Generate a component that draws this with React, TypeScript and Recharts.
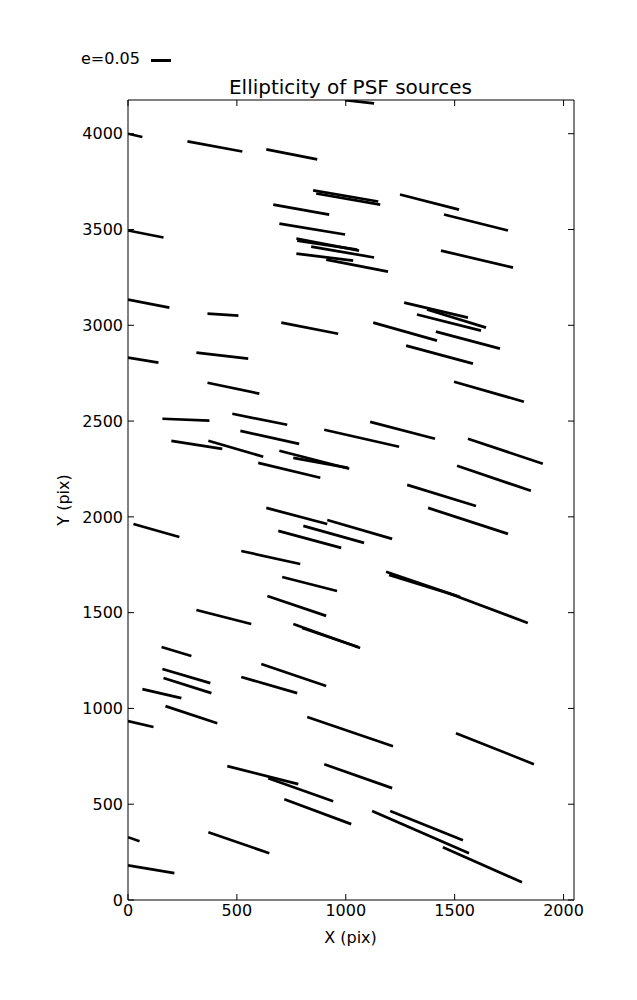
import React from 'react';
import { LineChart, Line, XAxis, YAxis } from 'recharts';

// whisker start / end points, in detector pixels
const xStart = [0, 273, 635, 850, 864, 1249, 667, 1451, 0, 695, 773, 777, 841, 773, 910, 1437, 0, 365, 704, 1268, 1373, 1327, 1126, 1414, 1277, 0, 314, 365, 1497, 158, 479, 1112, 516, 901, 1561, 199, 369, 695, 759, 598, 1511, 1282, 635, 915, 805, 25, 1378, 690, 520, 1185, 1199, 708, 640, 314, 1469, 759, 800, 154, 158, 163, 520, 612, 66, 172, 0, 823, 1506, 456, 644, 901, 718, 0, 369, 1121, 1204, 1446, 0, 997];
const yStart = [4000, 3960, 3918, 3704, 3688, 3683, 3630, 3578, 3495, 3531, 3453, 3442, 3411, 3374, 3343, 3390, 3134, 3061, 3014, 3118, 3082, 3056, 3014, 2967, 2894, 2831, 2857, 2700, 2705, 2512, 2538, 2496, 2449, 2455, 2408, 2397, 2397, 2345, 2308, 2282, 2267, 2167, 2047, 1984, 1953, 1963, 2047, 1927, 1822, 1713, 1697, 1686, 1587, 1514, 1603, 1441, 1420, 1321, 1206, 1159, 1164, 1232, 1101, 1012, 934, 955, 871, 699, 636, 709, 526, 328, 354, 464, 464, 275, 181, 4175];
const xEnd = [66, 525, 869, 1149, 1158, 1520, 924, 1745, 163, 997, 1061, 1052, 1130, 1034, 1194, 1768, 190, 507, 965, 1561, 1644, 1621, 1419, 1708, 1584, 140, 552, 603, 1818, 374, 731, 1410, 786, 1245, 1905, 433, 621, 1016, 1011, 883, 1850, 1598, 915, 1213, 1084, 236, 1745, 979, 791, 1525, 1511, 960, 910, 566, 1836, 1066, 1057, 291, 378, 383, 777, 910, 245, 410, 117, 1217, 1864, 782, 942, 1213, 1025, 53, 649, 1566, 1538, 1809, 213, 1130];
const yEnd = [3983, 3907, 3866, 3646, 3630, 3604, 3578, 3495, 3458, 3474, 3390, 3395, 3354, 3338, 3280, 3301, 3092, 3050, 2956, 3040, 2988, 2972, 2920, 2878, 2800, 2805, 2826, 2643, 2601, 2502, 2481, 2408, 2381, 2366, 2277, 2355, 2314, 2251, 2256, 2204, 2136, 2057, 1963, 1885, 1864, 1895, 1911, 1838, 1754, 1582, 1587, 1613, 1483, 1441, 1446, 1315, 1321, 1274, 1132, 1080, 1080, 1117, 1054, 923, 903, 803, 709, 605, 516, 584, 396, 307, 244, 244, 312, 93, 140, 4158];

const xTicks = [0, 500, 1000, 1500, 2000];
const yTicks = [0, 500, 1000, 1500, 2000, 2500, 3000, 3500, 4000];
const X_MAX = 2048;
const Y_MAX = 4176;

const segments = xStart.map((x, i) => [
    { x, y: yStart[i] },
    { x: xEnd[i], y: yEnd[i] },
]);

const font = '"DejaVu Sans", sans-serif';
const tickStyle = { fill: '#000', fontSize: 16, fontFamily: font };

export default function App() {
    return (
        <div style={{ position: 'relative', width: 629, height: 984, fontFamily: font, color: '#000' }}>
            <LineChart width={629} height={984} margin={{ top: 91, right: 62, bottom: 62, left: 60 }}>
                <XAxis
                    xAxisId="b"
                    dataKey="x"
                    type="number"
                    domain={[0, X_MAX]}
                    ticks={xTicks}
                    allowDataOverflow
                    height={30}
                    tickSize={-6}
                    tickMargin={11}
                    stroke="#000"
                    tick={tickStyle}
                />
                {/* top spine */}
                <XAxis
                    xAxisId="t"
                    orientation="top"
                    dataKey="x"
                    type="number"
                    domain={[0, X_MAX]}
                    ticks={xTicks}
                    allowDataOverflow
                    height={1}
                    tickSize={-6}
                    stroke="#000"
                    tickFormatter={() => ''}
                />
                <YAxis
                    yAxisId="l"
                    dataKey="y"
                    type="number"
                    domain={[0, Y_MAX]}
                    ticks={yTicks}
                    allowDataOverflow
                    width={60}
                    tickSize={-6}
                    tickMargin={11}
                    stroke="#000"
                    tick={tickStyle}
                />
                {/* right spine */}
                <YAxis
                    yAxisId="r"
                    orientation="right"
                    dataKey="y"
                    type="number"
                    domain={[0, Y_MAX]}
                    ticks={yTicks}
                    allowDataOverflow
                    width={1}
                    tickSize={-6}
                    stroke="#000"
                    tickFormatter={() => ''}
                />
                {segments.map((seg, i) => (
                    <Line
                        key={i}
                        xAxisId="b"
                        yAxisId="l"
                        data={seg}
                        dataKey="y"
                        stroke="#000"
                        strokeWidth={2.7}
                        strokeLinecap="butt"
                        dot={false}
                        activeDot={false}
                        isAnimationActive={false}
                    />
                ))}
            </LineChart>

            {/* quiver key */}
            <div style={{ position: 'absolute', left: 73, top: 41, fontSize: 16 }}>e=0.05</div>
            <div style={{ position: 'absolute', left: 143, top: 51, width: 20, height: 2.6, background: '#000' }} />

            <div style={{ position: 'absolute', left: 119, width: 447, top: 67, textAlign: 'center', fontSize: 20 }}>
                Ellipticity of PSF sources
            </div>
            <div style={{ position: 'absolute', left: 119, width: 447, top: 920, textAlign: 'center', fontSize: 16 }}>
                X (pix)
            </div>
            <div
                style={{
                    position: 'absolute',
                    left: 55,
                    top: 492,
                    fontSize: 16,
                    whiteSpace: 'nowrap',
                    transform: 'translate(-50%, -50%) rotate(-90deg)',
                }}
            >
                Y (pix)
            </div>
        </div>
    );
}
